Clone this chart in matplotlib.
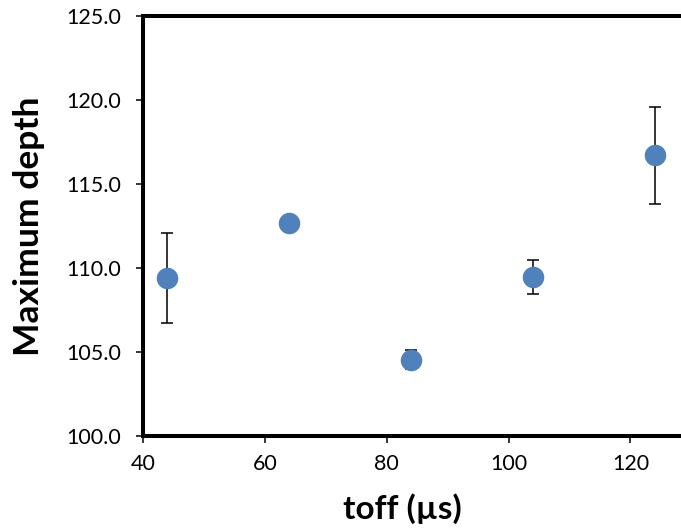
import matplotlib
matplotlib.use("Agg")
import matplotlib.pyplot as plt
from matplotlib.ticker import FormatStrFormatter, MultipleLocator

plt.rcParams['font.family'] = ['Lato', 'DejaVu Sans']

# toff sweep: mean maximum depth with error bars
toff = [44, 64, 84, 104, 124]
max_depth = [109.4, 112.7, 104.55, 109.45, 116.7]
depth_err = [2.7, 0.3, 0.55, 1.0, 2.9]

fig = plt.figure(figsize=(6.81, 5.31), dpi=100)
ax = fig.add_axes([0.21, 0.179, 0.79, 0.791])

ax.errorbar(toff, max_depth, yerr=depth_err, fmt='none', ecolor='black',
            elinewidth=1.1, capsize=4.3, capthick=1.1, zorder=2)
ax.plot(toff, max_depth, 'o', color='#4F81BD', markersize=15.5,
        markeredgewidth=0, zorder=3, clip_on=False)

ax.set_xlim(40, 128.3)
ax.set_ylim(100, 125)
ax.xaxis.set_major_locator(MultipleLocator(20))
ax.yaxis.set_major_locator(MultipleLocator(5))
ax.yaxis.set_major_formatter(FormatStrFormatter('%.1f'))

for side in ['left', 'bottom', 'top']:
    ax.spines[side].set_linewidth(2.9)
ax.spines['right'].set_visible(False)

ax.tick_params(axis='both', direction='out', length=5, width=1.1,
               labelsize=15.5)
ax.tick_params(axis='x', pad=8)
ax.tick_params(axis='y', pad=11)

ax.set_xlabel('toff (µs)', fontsize=24, fontweight='bold', labelpad=14)
ax.xaxis.label.set_x(0.483)
ax.set_ylabel('Maximum depth', fontsize=25.5, fontweight='bold', labelpad=15)

fig.savefig('out.png', dpi=100)
